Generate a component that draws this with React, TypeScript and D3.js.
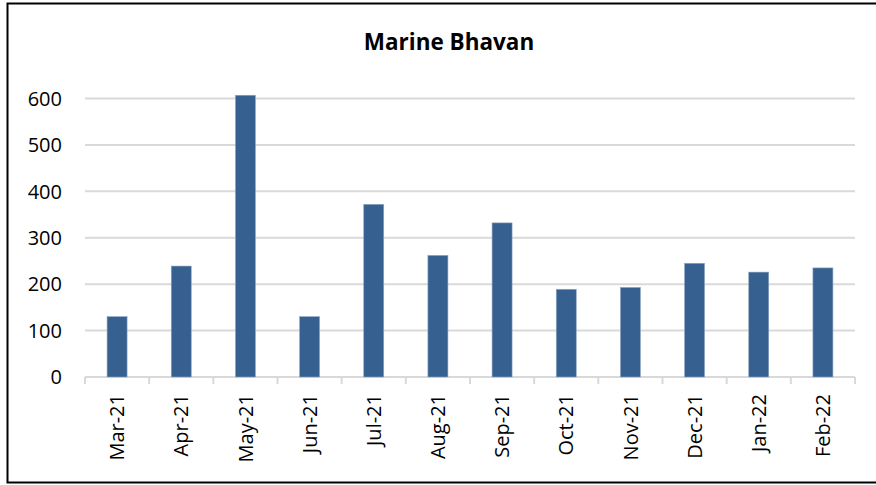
import React from "react";
import * as d3 from "d3";

const categories = ["Mar-21","Apr-21","May-21","Jun-21","Jul-21","Aug-21","Sep-21","Oct-21","Nov-21","Dec-21","Jan-22","Feb-22"];
const values = [130, 239, 607, 130, 372, 262, 332, 189, 193, 245, 226, 235];
const yTicks = [0, 100, 200, 300, 400, 500, 600];
const title = "Marine Bhavan";

const W = 876, H = 485;
const plot = { left: 85, right: 855, top: 98.5, bottom: 377 };
const FONT = "'Open Sans', 'Liberation Sans', sans-serif";

export default function App() {
  const xb = d3.scaleBand<string>().domain(categories).range([plot.left, plot.right]);
  const y = d3.scaleLinear().domain([0, 600]).range([plot.bottom, plot.top]);
  const bw = 20;
  return (
    <svg width={W} height={H} style={{ position: "absolute", left: 0, top: 0, background: "#fff" }}>
      <rect x={7.5} y={3.5} width={880} height={479} fill="#fff" stroke="#000" strokeWidth={2} />
      <text x={449} y={50} textAnchor="middle" fontFamily={FONT} fontWeight="bold" fontSize={22.5} fill="#000">{title}</text>
      {yTicks.map(t => (
        <g key={t}>
          <line x1={plot.left} x2={plot.right} y1={y(t)} y2={y(t)} stroke="#d9d9d9" strokeWidth={2} />
          <text x={62} y={y(t)} dy="0.36em" textAnchor="end" fontFamily={FONT} fontSize={20} fill="#000">{t}</text>
        </g>
      ))}
      {categories.map((c, i) => {
        const cx = xb(c)! + xb.bandwidth() / 2;
        return (
          <rect key={c} x={cx - bw / 2} y={y(values[i])} width={bw} height={y(0) - y(values[i])} fill="#36608f" stroke="#8fa6c4" strokeWidth={0.6} />
        );
      })}
      {d3.range(categories.length + 1).map(i => {
        const tx = plot.left + i * xb.step();
        return <line key={i} x1={tx} x2={tx} y1={plot.bottom} y2={plot.bottom + 7} stroke="#d9d9d9" strokeWidth={2} />;
      })}
      {categories.map(c => {
        const cx = xb(c)! + xb.bandwidth() / 2;
        return (
          <text key={c} transform={`translate(${cx},${plot.bottom + 17}) rotate(-90)`} textAnchor="end" dy="0.36em" fontFamily={FONT} fontSize={20} fill="#000">{c}</text>
        );
      })}
    </svg>
  );
}
